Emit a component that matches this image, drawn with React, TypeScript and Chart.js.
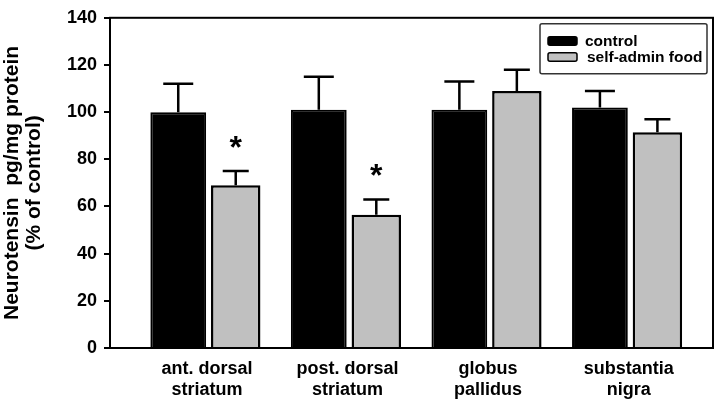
import React, { useEffect, useRef } from "react";
import { Chart, registerables } from "chart.js";

Chart.register(...registerables);

const categories: string[][] = [
  ["ant. dorsal", "striatum"],
  ["post. dorsal", "striatum"],
  ["globus", "pallidus"],
  ["substantia", "nigra"],
];
const seriesNames = ["control", "self-admin food"];
const controlValues = [100, 101, 101, 102];
const controlErr = [12, 14, 12, 7];
const foodValues = [69, 56.5, 109, 91.5];
const foodErr = [6, 6.5, 9, 5.5];
const significance = ["*", "*", "", ""];
const yTickValues = [0, 20, 40, 60, 80, 100, 120, 140];
const yTitle = ["Neurotensin  pg/mg protein", "(% of control)"];

const FONT = "Arial, 'Liberation Sans', Helvetica, sans-serif";

const framePlugin = {
  id: "frame",
  afterDraw(chart: any) {
    const { ctx, chartArea } = chart;
    ctx.save();
    ctx.strokeStyle = "#000";
    ctx.lineWidth = 2;
    ctx.strokeRect(chartArea.left, chartArea.top, chartArea.right - chartArea.left, chartArea.bottom - chartArea.top);
    ctx.restore();
  },
};

const errorBarPlugin = {
  id: "errorBars",
  afterDatasetsDraw(chart: any) {
    const { ctx } = chart;
    const yScale = chart.scales.y;
    const errs = [controlErr, foodErr];
    ctx.save();
    chart.data.datasets.forEach((ds: any, di: number) => {
      const meta = chart.getDatasetMeta(di);
      meta.data.forEach((bar: any, i: number) => {
        const v = ds.data[i].y;
        const top = yScale.getPixelForValue(v + errs[di][i]);
        const cap = di === 0 ? 30 : 26;
        ctx.strokeStyle = "#000";
        ctx.lineWidth = 2.5;
        ctx.beginPath();
        ctx.moveTo(bar.x, bar.y);
        ctx.lineTo(bar.x, top);
        ctx.moveTo(bar.x - cap / 2, top);
        ctx.lineTo(bar.x + cap / 2, top);
        ctx.stroke();
        if (di === 1 && significance[i]) {
          ctx.fillStyle = "#000";
          ctx.font = `bold 32px ${FONT}`;
          ctx.textAlign = "center";
          ctx.textBaseline = "alphabetic";
          ctx.fillText(significance[i], bar.x, top - 13);
        }
      });
    });
    ctx.restore();
  },
};

const legendPlugin = {
  id: "customLegend",
  afterDraw(chart: any) {
    const { ctx, chartArea } = chart;
    const right = chartArea.right - 6;
    const left = right - 167;
    const top = chartArea.top + 6;
    const h = 50;
    ctx.save();
    ctx.strokeStyle = "#333";
    ctx.lineWidth = 1.5;
    ctx.beginPath();
    ctx.roundRect(left, top, right - left, h, 2);
    ctx.stroke();
    const colors = ["#000000", "#c0c0c0"];
    const rows = [top + 13, top + 29];
    chart.data.datasets.forEach((ds: any, i: number) => {
      const y = rows[i];
      ctx.fillStyle = colors[i];
      ctx.strokeStyle = "#000";
      ctx.lineWidth = 1.5;
      ctx.beginPath();
      ctx.roundRect(left + 8, y, 29, 8.5, 2);
      ctx.fill();
      ctx.stroke();
      ctx.fillStyle = "#000";
      ctx.font = `bold 15.5px ${FONT}`;
      ctx.textAlign = "left";
      ctx.textBaseline = "middle";
      ctx.fillText(ds.label, left + 45 + i * 2, y + 4.5);
    });
    ctx.restore();
  },
};

export default function App() {
  const ref = useRef<HTMLCanvasElement | null>(null);
  useEffect(() => {
    document.body.style.margin = "0";
    const canvas = ref.current!;
    const chart = new Chart(canvas, {
      type: "bar",
      data: {
        datasets: [
          {
            label: seriesNames[0],
            data: controlValues.map((v, i) => ({ x: i, y: v })),
            backgroundColor: "#000000",
            borderColor: "#000000",
            borderWidth: 2,
            barPercentage: 0.97,
            categoryPercentage: 0.818,
          } as any,
          {
            label: seriesNames[1],
            data: foodValues.map((v, i) => ({ x: i, y: v })),
            backgroundColor: "#c0c0c0",
            borderColor: "#000000",
            borderWidth: 2.5,
            barPercentage: 0.86,
            categoryPercentage: 0.818,
          } as any,
        ],
      },
      options: {
        animation: false,
        responsive: false,
        maintainAspectRatio: false,
        layout: { padding: { top: 13, right: 5, left: 0, bottom: 0 } },
        plugins: { legend: { display: false }, tooltip: { enabled: false } },
        scales: {
          x: {
            type: "linear",
            min: -0.69,
            max: 3.6,
            offset: false,
            grid: { display: false },
            border: { display: false },
            afterBuildTicks: (s: any) => {
              s.ticks = categories.map((_, i) => ({ value: i }));
            },
            afterFit: (s: any) => {
              s.height = 54;
            },
            ticks: {
              autoSkip: false,
              maxRotation: 0,
              minRotation: 0,
              padding: 2,
              color: "#000",
              font: { family: FONT, size: 18, weight: "bold", lineHeight: 1.2 },
              callback: (v: any) => categories[v as number],
            },
          } as any,
          y: {
            min: 0,
            max: 140,
            afterBuildTicks: (s: any) => {
              s.ticks = yTickValues.map((v) => ({ value: v }));
            },
            afterFit: (s: any) => {
              s.width = 110;
            },
            grid: {
              display: true,
              drawOnChartArea: false,
              drawTicks: true,
              tickLength: 6,
              color: "#000",
              lineWidth: 2,
            },
            border: { display: false },
            ticks: {
              padding: 7,
              color: "#000",
              font: { family: FONT, size: 18, weight: "bold" },
            },
            title: {
              display: true,
              text: yTitle,
              color: "#000",
              padding: { top: 1, bottom: 0 },
              font: { family: FONT, size: 21, weight: "bold", lineHeight: 1.05 },
            },
          },
        },
      },
      plugins: [framePlugin, errorBarPlugin, legendPlugin],
    });
    return () => chart.destroy();
  }, []);
  return <canvas ref={ref} width={718} height={402} style={{ display: "block", width: 718, height: 402 }} />;
}
